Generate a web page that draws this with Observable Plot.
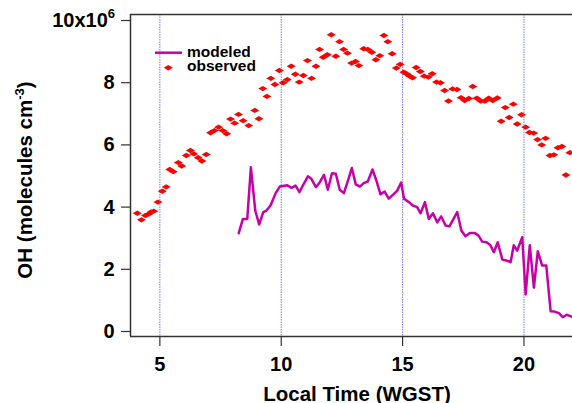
<!DOCTYPE html>
<html><head><meta charset="utf-8">
<script src="https://cdn.jsdelivr.net/npm/d3@7"></script>
<script src="https://cdn.jsdelivr.net/npm/@observablehq/plot@0.6"></script>
<style>body{margin:0;background:#fff}</style>
</head><body><div id="chart"></div>
<script>
// OH concentration in units of 10^6 molecules cm^-3
const obsTime = [4.07,4.24,4.41,4.54,4.64,4.75,4.92,5.10,5.26,5.41,5.55,5.76,5.90,6.09,6.26,6.40,6.58,6.73,6.91,7.09,7.25,7.42,7.59,7.75,7.91,8.08,8.24,8.43,8.66,8.91,9.08,9.24,9.41,9.57,9.74,9.92,10.08,10.25,10.41,10.58,10.74,10.91,11.08,11.25,11.43,11.58,11.73,11.90,12.06,12.25,12.40,12.57,12.73,12.90,13.06,13.20,13.40,13.57,13.73,13.90,14.06,14.23,14.39,14.57,14.74,14.90,15.05,15.19,15.30,15.41,15.56,15.73,15.89,16.06,16.22,16.40,16.56,16.73,16.89,17.06,17.24,17.41,17.56,17.73,17.89,18.06,18.22,18.39,18.55,18.72,18.90,19.06,19.23,19.39,19.56,19.72,19.90,20.07,20.23,20.40,20.56,20.73,20.89,21.07,21.23,21.40,21.56,21.73,21.89];
const obsOH = [3.80,3.59,3.73,3.78,3.84,3.87,4.16,4.51,4.65,5.21,5.14,5.43,5.32,5.66,5.82,5.71,5.59,5.48,5.69,6.39,6.46,6.57,6.46,6.36,6.83,6.70,6.98,6.78,6.62,7.11,6.84,7.81,7.56,8.14,7.94,8.39,8.00,8.10,8.53,8.27,8.02,8.23,8.71,8.14,8.53,9.07,8.82,8.90,9.54,8.85,9.32,9.07,8.95,8.63,8.68,8.55,9.09,9.07,8.98,8.74,8.87,9.52,9.32,8.93,8.47,8.59,8.34,8.27,8.21,8.16,8.49,8.36,8.21,8.18,8.29,8.02,8.00,7.75,7.41,7.80,7.78,7.52,7.43,7.49,7.88,7.50,7.41,7.41,7.50,7.43,7.51,6.76,7.20,6.88,7.31,6.67,6.97,6.57,6.40,6.38,6.17,6.00,6.21,5.66,5.68,5.91,5.95,5.03,5.75];
const modTime = [8.25,8.42,8.60,8.75,8.93,9.09,9.26,9.39,9.56,9.77,9.94,10.25,10.42,10.59,10.75,10.93,11.10,11.24,11.43,11.59,11.76,11.92,12.09,12.25,12.41,12.58,12.74,12.91,13.07,13.24,13.40,13.57,13.76,13.93,14.09,14.26,14.43,14.61,14.78,14.94,15.06,15.26,15.42,15.60,15.74,15.92,16.08,16.25,16.43,16.59,16.77,16.93,17.25,17.42,17.59,17.77,17.96,18.12,18.28,18.46,18.62,18.76,18.92,19.11,19.28,19.45,19.58,19.72,19.93,20.07,20.24,20.41,20.57,20.75,20.92,21.10,21.26,21.44,21.60,21.76,21.95];
const modOH = [3.16,3.62,3.62,5.28,3.89,3.44,3.84,3.89,4.05,4.45,4.66,4.70,4.62,4.69,4.48,4.75,4.99,4.91,4.64,4.80,5.04,4.56,5.09,5.07,4.56,4.45,4.83,5.26,4.73,4.66,4.77,4.83,5.21,4.83,4.41,4.50,4.27,4.40,4.53,4.79,4.27,4.16,4.05,4.00,3.80,4.16,3.62,3.80,3.51,3.70,3.41,3.38,3.84,3.25,3.06,3.17,3.17,3.09,2.89,2.87,2.77,2.55,2.87,2.31,2.28,2.23,2.77,2.60,3.03,1.19,2.77,1.41,2.58,2.12,2.12,0.65,0.64,0.59,0.46,0.54,0.48];
const xTicks = [5, 10, 15, 20];
const yTicks = [0, 2, 4, 6, 8, 10];
const seriesNames = ["modeled", "observed"];
const xLabel = "Local Time (WGST)";

const observed = obsTime.map((t, i) => ({t, v: obsOH[i]}));
const modeled = modTime.map((t, i) => ({t, v: modOH[i]}));

const xDomain = [3.79, 22.0];
const yDomain = [-0.161, 10.193];
const modColor = "#c800a8";
const obsColor = "#ff0000";
const axisColor = "#333";
const font = "'Liberation Sans', Arial, Helvetica, sans-serif";

const flatDiamond = {
  draw(ctx, size) {
    const r = Math.sqrt(size / Math.PI);
    const w = r, h = r * 0.6;
    ctx.moveTo(-w, 0); ctx.lineTo(0, -h); ctx.lineTo(w, 0); ctx.lineTo(0, h); ctx.closePath();
  }
};

const chart = Plot.plot({
  width: 572, height: 403,
  marginLeft: 130, marginRight: 0, marginTop: 14, marginBottom: 67,
  style: {fontFamily: font, background: "#fff", color: "#000"},
  x: {domain: xDomain},
  y: {domain: yDomain},
  marks: [
    Plot.ruleX(xTicks, {stroke: "#7777ff", strokeDasharray: "1.5,1", strokeWidth: 1}),
    Plot.ruleY([yDomain[1]], {stroke: axisColor, strokeWidth: 1.5}),
    Plot.ruleY([yDomain[0]], {stroke: axisColor, strokeWidth: 1.5}),
    Plot.ruleX([xDomain[0]], {stroke: axisColor, strokeWidth: 1.5}),
    Plot.axisY(yTicks, {tickSize: 9, tickPadding: 7, stroke: axisColor, strokeWidth: 1.2,
      tickFormat: d => d === 10 ? "" : String(d), fontSize: 20, fontWeight: "bold", label: null}),
    Plot.axisX(xTicks, {tickSize: 10, tickPadding: 10, stroke: axisColor, strokeWidth: 1.2,
      fontSize: 20, fontWeight: "bold", label: null}),
    Plot.line(modeled, {x: "t", y: "v", stroke: modColor, strokeWidth: 2.5, strokeLinejoin: "round"}),
    Plot.dot(observed, {x: "t", y: "v", symbol: flatDiamond, r: 4.5, fill: obsColor, stroke: null})
  ]
});

const svg = d3.select(chart);
// top tick label 10x10^6
const topLabel = svg.append("text").attr("x", 115).attr("y", 26.5).attr("text-anchor", "end")
  .attr("font-size", 20).attr("font-weight", "bold").attr("font-family", font).text("10x10");
topLabel.append("tspan").attr("dy", -9).attr("font-size", 13).text("6");
// y label
const yl = svg.append("text").attr("transform", "translate(31.5,180) rotate(-90)")
  .attr("text-anchor", "middle").attr("font-size", 20.5).attr("font-weight", "bold")
  .attr("font-family", font).text("OH (molecules cm");
yl.append("tspan").attr("dy", -8).attr("font-size", 13).text("-3");
yl.append("tspan").attr("dy", 8).text(")");
// x label
svg.append("text").attr("x", 357).attr("y", 400.5).attr("text-anchor", "middle")
  .attr("font-size", 20.5).attr("font-weight", "bold").attr("font-family", font).text(xLabel);
// legend
const lg = svg.append("g").attr("font-family", font).attr("font-weight", "bold")
  .attr("font-size", 15.5).attr("text-anchor", "start");
lg.append("line").attr("x1", 155).attr("x2", 182).attr("y1", 52.7).attr("y2", 52.7)
  .attr("stroke", modColor).attr("stroke-width", 2.5);
lg.append("text").attr("x", 187).attr("y", 57).text(seriesNames[0]);
lg.append("path").attr("transform", "translate(168.3,67.7)")
  .attr("d", d3.symbol(flatDiamond, 4.5 * 4.5 * Math.PI)()).attr("fill", obsColor);
lg.append("text").attr("x", 187).attr("y", 71).text(seriesNames[1]);

document.getElementById("chart").appendChild(chart);
</script>
</body></html>
